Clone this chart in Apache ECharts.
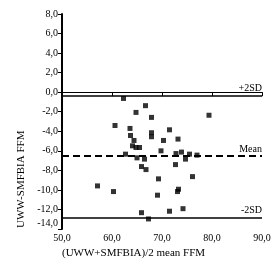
<!DOCTYPE html>
<html>
<head>
<meta charset="utf-8">
<script src="https://cdn.jsdelivr.net/npm/echarts@6/dist/echarts.min.js"></script>
<style>
  html, body { margin: 0; padding: 0; background: #fff; }
  #chart { width: 276px; height: 276px; }
</style>
</head>
<body>
<div id="chart"></div>
<script>
// mean of the two methods (x) and difference (y)
const meanFFM = [62.3, 66.7, 64.8, 67.9, 79.4, 60.6, 63.6, 71.5, 63.7, 67.9,
  67.9, 64.4, 70.3, 73.2, 64.1, 64.8, 65.5, 69.8, 72.8, 73.9,
  75.5, 77.0, 62.7, 65.0, 66.5, 74.7, 65.9, 66.8, 72.7, 76.1,
  69.3, 57.1, 60.3, 73.3, 73.1, 69.1, 74.2, 65.9, 71.5, 67.3]
const diffFFM = [-0.64, -1.38, -2.07, -2.58, -2.36, -3.41, -3.71, -3.85, -4.43, -4.15,
  -4.56, -4.94, -4.94, -4.8, -5.49, -5.66, -5.66, -6.0, -6.28, -6.13,
  -6.34, -6.44, -6.34, -6.72, -6.85, -6.85, -7.61, -7.92, -7.41, -8.64,
  -8.87, -9.59, -10.17, -9.93, -10.17, -10.54, -11.92, -12.33, -12.18, -12.97]

// limits of agreement
const refLabels = ['+2SD', 'Mean', '-2SD']
const refValues = [-0.35, -6.55, -12.8]

const xTicks = { min: 50, max: 90, step: 10 }
const yTicks = { min: -14, max: 8, step: 2 }

const FONT = '"Liberation Serif", "Times New Roman", serif'
const fmt = v => v.toFixed(1).replace('.', ',')

const chart = echarts.init(document.getElementById('chart'))

const points = meanFFM.map((x, i) => [x, diffFFM[i]])

const lines = refValues.map((v, i) => ({
  yAxis: v,
  label: { formatter: refLabels[i] },
  lineStyle: i === 1
    ? { type: [7, 4], width: 2, color: '#000' }
    : { type: 'solid', width: 1.5, color: '#000' }
}))

const option = {
  backgroundColor: '#fff',
  animation: false,
  grid: { left: 62, right: 14, top: 14, bottom: 47 },
  xAxis: {
    type: 'value',
    min: xTicks.min,
    max: xTicks.max,
    interval: xTicks.step,
    splitLine: { show: false },
    axisLine: { lineStyle: { color: '#000', width: 1 } },
    axisTick: { length: 4, lineStyle: { color: '#000' } },
    axisLabel: { formatter: fmt, color: '#000', fontFamily: FONT, fontSize: 10, margin: 4 }
  },
  yAxis: {
    type: 'value',
    min: yTicks.min,
    max: yTicks.max,
    interval: yTicks.step,
    splitLine: { show: false },
    axisLine: { lineStyle: { color: '#000', width: 2 } },
    axisTick: { length: 4, lineStyle: { color: '#000' } },
    axisLabel: {
      color: '#000', fontFamily: FONT, fontSize: 10, margin: 4,
      formatter: v => v === yTicks.min ? '{low|' + fmt(v) + '}' : fmt(v),
      rich: { low: { color: '#000', fontFamily: FONT, fontSize: 10, padding: [0, 0, 12, 0] } }
    }
  },
  graphic: [
    {
      type: 'text', left: 62, top: 248,
      style: { text: '(UWW+SMFBIA)/2 mean FFM', fontFamily: FONT, fontSize: 11, fill: '#000' }
    },
    {
      type: 'text', x: 16, y: 228, rotation: Math.PI / 2,
      style: { text: 'UWW-SMFBIA FFM', fontFamily: FONT, fontSize: 11, fill: '#000', align: 'left', verticalAlign: 'top' }
    }
  ],
  series: [{
    type: 'scatter',
    symbol: 'rect',
    symbolSize: 5,
    itemStyle: { color: '#000' },
    data: points,
    markLine: {
      silent: true,
      symbol: 'none',
      label: {
        position: 'insideEndTop',
        color: '#000',
        fontFamily: FONT,
        fontSize: 10,
        distance: [0, 2]
      },
      data: lines
    }
  }]
}

chart.setOption(option)
</script>
</body>
</html>
